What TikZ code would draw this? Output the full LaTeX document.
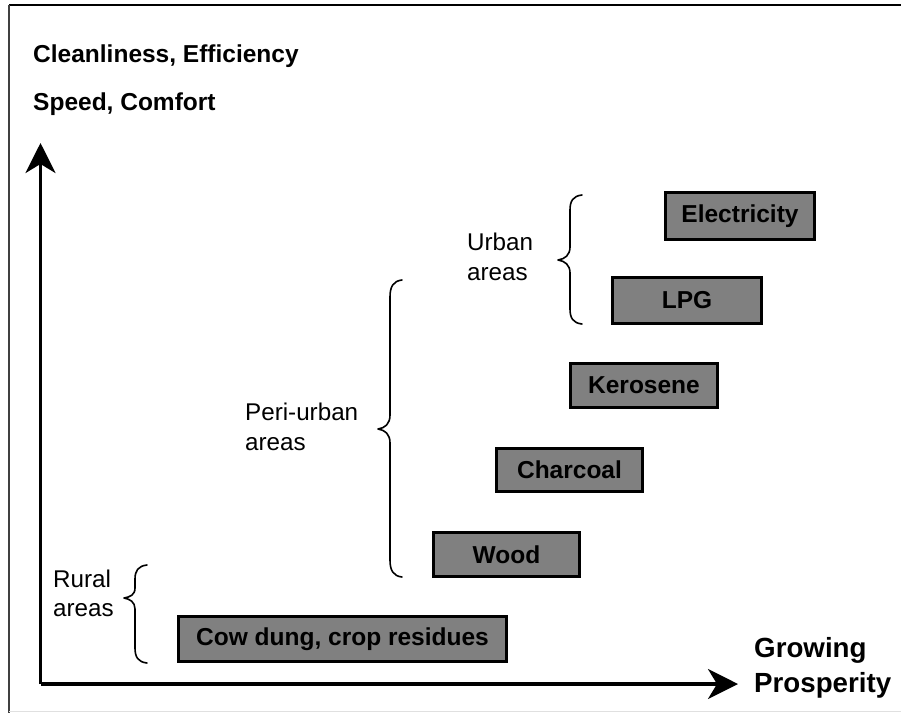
\documentclass[tikz,border=0pt]{standalone}
\usepackage{fontspec}
\setmainfont{Liberation Sans}
\usetikzlibrary{arrows.meta}
\begin{document}
\begin{tikzpicture}[x=1pt,y=-1pt,
  fuelbox/.style={draw=black,line width=3pt,fill=black!50,inner sep=0pt,
    font=\fontsize{24.5}{29}\selectfont\bfseries},
  axislabel/.style={anchor=base west,inner sep=0pt,font=\fontsize{24.5}{30}\selectfont\bfseries},
  arealabel/.style={anchor=base west,inner sep=0pt,font=\fontsize{24.2}{30}\selectfont},
  prosp/.style={anchor=base west,inner sep=0pt,font=\fontsize{27.7}{34}\selectfont\bfseries},
  axis/.style={line width=3.5pt,-{Stealth[length=30pt,width=30pt,inset=9pt]}},
  bracestyle/.style={line width=1.6pt,line cap=round,line join=round}]
\useasboundingbox (0,0) rectangle (901,713);
% frame
\draw[line width=2.5pt] (9,5) -- (901,5);
\draw[line width=1.6pt,black!75] (9,5) -- (9,713);
\draw[line width=1pt,black!12] (9,711.5) -- (901,711.5);
% axes
\coordinate (O) at (40.5,684);
\coordinate (ytop) at (40.5,143);
\coordinate (xend) at (738,684);
\draw[axis] (O) -- (ytop);
\draw[axis] (O) -- (xend);
% axis labels
\node[axislabel] (t1) at (33,62) {Cleanliness, Efficiency};
\node[axislabel] (t2) at (33,110) {Speed, Comfort};
\node[prosp] (g1) at (754,657) {Growing};
\node[prosp] (g2) at (754,692) {Prosperity};
% boxes
\node[fuelbox,minimum width=328pt,minimum height=45pt] (cow) at (342.5,639) {Cow dung, crop residues};
\node[fuelbox,minimum width=146pt,minimum height=44pt] (wood) at (506.5,554.5) {Wood};
\node[fuelbox,minimum width=146pt,minimum height=43pt] (charcoal) at (569.5,470) {Charcoal};
\node[fuelbox,minimum width=147pt,minimum height=44pt] (kerosene) at (644,385.5) {Kerosene};
\node[fuelbox,minimum width=149pt,minimum height=46pt] (lpg) at (687,300.5) {LPG};
\node[fuelbox,minimum width=149pt,minimum height=47pt] (elec) at (740,216) {Electricity};
% area labels
\node[arealabel] (u1) at (467,250) {Urban};
\node[arealabel] (u2) at (467,280) {areas};
\node[arealabel] (p1) at (245,420) {Peri-urban};
\node[arealabel] (p2) at (245,450) {areas};
\node[arealabel] (r1) at (53,587) {Rural};
\node[arealabel] (r2) at (53,616) {areas};
% braces
\draw[bracestyle] (582,195) .. controls (573,196) and (570,201) .. (570,210)
  -- (570,247) .. controls (570,255) and (565,259) .. (558,260)
  .. controls (565,261) and (570,265) .. (570,273)
  -- (570,309) .. controls (570,318) and (573,323) .. (582,324);
\draw[bracestyle] (402,280) .. controls (393,281) and (390,287) .. (390,297)
  -- (390,415) .. controls (390,424) and (385,428) .. (378,429)
  .. controls (385,430) and (390,434) .. (390,443)
  -- (390,560) .. controls (390,570) and (393,576) .. (402,577);
\draw[bracestyle] (147,565) .. controls (138,566) and (135,571) .. (135,579)
  -- (135,588) .. controls (135,595) and (130,597) .. (124,598)
  .. controls (130,599) and (135,602) .. (135,609)
  -- (135,648) .. controls (135,657) and (138,662) .. (147,663);
\end{tikzpicture}
\end{document}
